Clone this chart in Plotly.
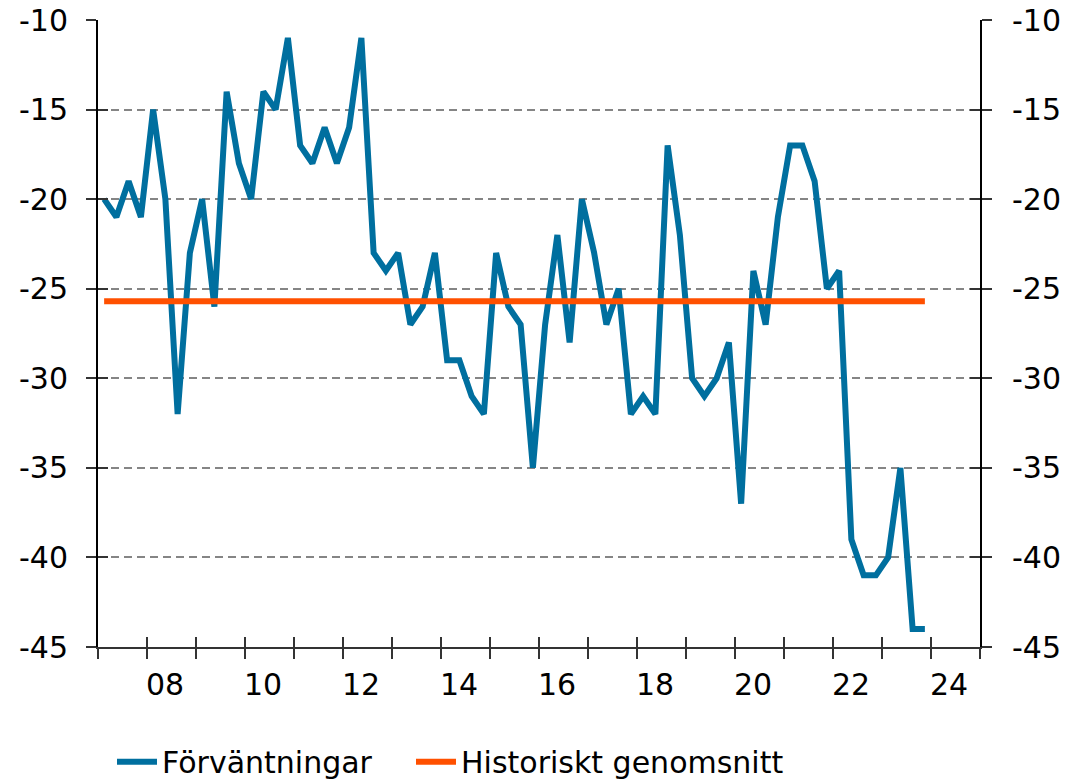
import plotly.graph_objects as go

# Quarterly household expectations, net balance, 2007 Q1 - 2023 Q4
start_year = 2007
quarters = [f"{start_year + i // 4}Q{i % 4 + 1}" for i in range(68)]
expectations = [
    -20, -21, -19, -21,   # 2007
    -15, -20, -32, -23,   # 2008
    -20, -26, -14, -18,   # 2009
    -20, -14, -15, -11,   # 2010
    -17, -18, -16, -18,   # 2011
    -16, -11, -23, -24,   # 2012
    -23, -27, -26, -23,   # 2013
    -29, -29, -31, -32,   # 2014
    -23, -26, -27, -35,   # 2015
    -27, -22, -28, -20,   # 2016
    -23, -27, -25, -32,   # 2017
    -31, -32, -17, -22,   # 2018
    -30, -31, -30, -28,   # 2019
    -37, -24, -27, -21,   # 2020
    -17, -17, -19, -25,   # 2021
    -24, -39, -41, -41,   # 2022
    -40, -35, -44, -44,   # 2023
]
historical_average = -25.7

year_ticks = list(range(2007, 2026))
label_years = list(range(2008, 2025, 2))
label_text = [f"{y % 100:02d}" for y in label_years]
y_ticks = [-45, -40, -35, -30, -25, -20, -15, -10]
y_tick_text = [str(v) for v in y_ticks]

BLUE = "#006f9f"
ORANGE = "#ff5000"
FONT = "DejaVu Sans"
AXIS_GREY = "#333333"


def quarter_pos(q):
    # centre of the quarter on a decimal-year scale
    y, n = q.split("Q")
    return int(y) + (int(n) - 0.5) / 4


x_pos = [quarter_pos(q) for q in quarters]
x_range = [2007, 2025]
y_range = [-45, -10]

fig = go.Figure()
fig.add_trace(go.Scatter(
    x=x_pos, y=expectations, mode="lines", name="Förväntningar",
    line=dict(color=BLUE, width=6), hoverinfo="skip", legend="legend",
))
fig.add_trace(go.Scatter(
    x=x_pos, y=[historical_average] * len(x_pos), mode="lines",
    name="Historiskt genomsnitt",
    line=dict(color=ORANGE, width=6), hoverinfo="skip", legend="legend2",
))

axis_font = dict(family=FONT, size=30, color="#000000")
legend_common = dict(
    orientation="h", xref="container", yref="container",
    xanchor="left", y=0.026, yanchor="middle",
    font=dict(family=FONT, size=30, color="#000000"),
    bgcolor="rgba(0,0,0,0)", itemwidth=40,
)

fig.update_layout(
    width=1078, height=782,
    margin=dict(l=98, r=98, t=20, b=135, autoexpand=False),
    paper_bgcolor="white", plot_bgcolor="white",
    font=axis_font,
    showlegend=True,
    legend=dict(x=112 / 1078, **legend_common),
    legend2=dict(x=411 / 1078, **legend_common),
    # year boundary ticks below the axis line
    xaxis=dict(
        range=x_range, tickmode="array", tickvals=year_ticks,
        showticklabels=False, ticks="outside", ticklen=10, tickwidth=1.5,
        tickcolor=AXIS_GREY, showline=True, linecolor=AXIS_GREY, linewidth=2,
        showgrid=False, zeroline=False, fixedrange=True, automargin=False,
    ),
    # same ticks above the axis line
    xaxis2=dict(
        range=x_range, overlaying="x", anchor="y", side="bottom",
        tickmode="array", tickvals=year_ticks, showticklabels=False,
        ticks="inside", ticklen=10, tickwidth=1.5, tickcolor=AXIS_GREY,
        showline=False, showgrid=False, zeroline=False, fixedrange=True,
        automargin=False,
    ),
    # year labels centred in their year
    xaxis3=dict(
        range=x_range, overlaying="x", anchor="y", side="bottom",
        tickmode="array", tickvals=[y + 0.37 for y in label_years],
        ticktext=label_text, ticks="outside", ticklen=11,
        tickcolor="rgba(0,0,0,0)", tickfont=axis_font,
        showline=False, showgrid=False, zeroline=False, fixedrange=True,
        automargin=False,
    ),
    yaxis=dict(
        range=y_range, tickmode="array", tickvals=y_ticks,
        ticktext=y_tick_text,
        ticks="outside", ticklen=10, tickwidth=1.5, tickcolor=AXIS_GREY,
        ticklabelstandoff=12, tickfont=axis_font,
        showline=True, linecolor="#000000", linewidth=2,
        showgrid=True, gridcolor="#858585", gridwidth=1.8, griddash="8px,5px",
        zeroline=False, fixedrange=True, automargin=False,
    ),
    yaxis2=dict(
        range=y_range, overlaying="y", side="right", anchor="x",
        tickmode="array", tickvals=y_ticks, ticktext=y_tick_text,
        ticks="outside", ticklen=10, tickwidth=1.5, tickcolor=AXIS_GREY,
        ticklabelstandoff=14, tickfont=axis_font,
        showline=True, linecolor="#000000", linewidth=2,
        showgrid=False, zeroline=False, fixedrange=True, automargin=False,
    ),
    yaxis3=dict(
        range=y_range, overlaying="y", side="left", anchor="x",
        tickmode="array", tickvals=y_ticks, showticklabels=False,
        ticks="inside", ticklen=10, tickwidth=1.5, tickcolor=AXIS_GREY,
        showline=False, showgrid=False, zeroline=False, fixedrange=True,
        automargin=False,
    ),
    yaxis4=dict(
        range=y_range, overlaying="y", side="right", anchor="x",
        tickmode="array", tickvals=y_ticks, showticklabels=False,
        ticks="inside", ticklen=10, tickwidth=1.5, tickcolor=AXIS_GREY,
        showline=False, showgrid=False, zeroline=False, fixedrange=True,
        automargin=False,
    ),
)

# invisible carriers so every overlay axis is rendered
for xa, ya in [("x2", "y3"), ("x3", "y4"), ("x", "y2")]:
    fig.add_trace(go.Scatter(
        x=[x_range[0]], y=[y_range[0]], xaxis=xa, yaxis=ya, mode="markers",
        marker=dict(opacity=0), showlegend=False, hoverinfo="skip",
    ))

fig.write_html("out.html", config={"displayModeBar": False})
